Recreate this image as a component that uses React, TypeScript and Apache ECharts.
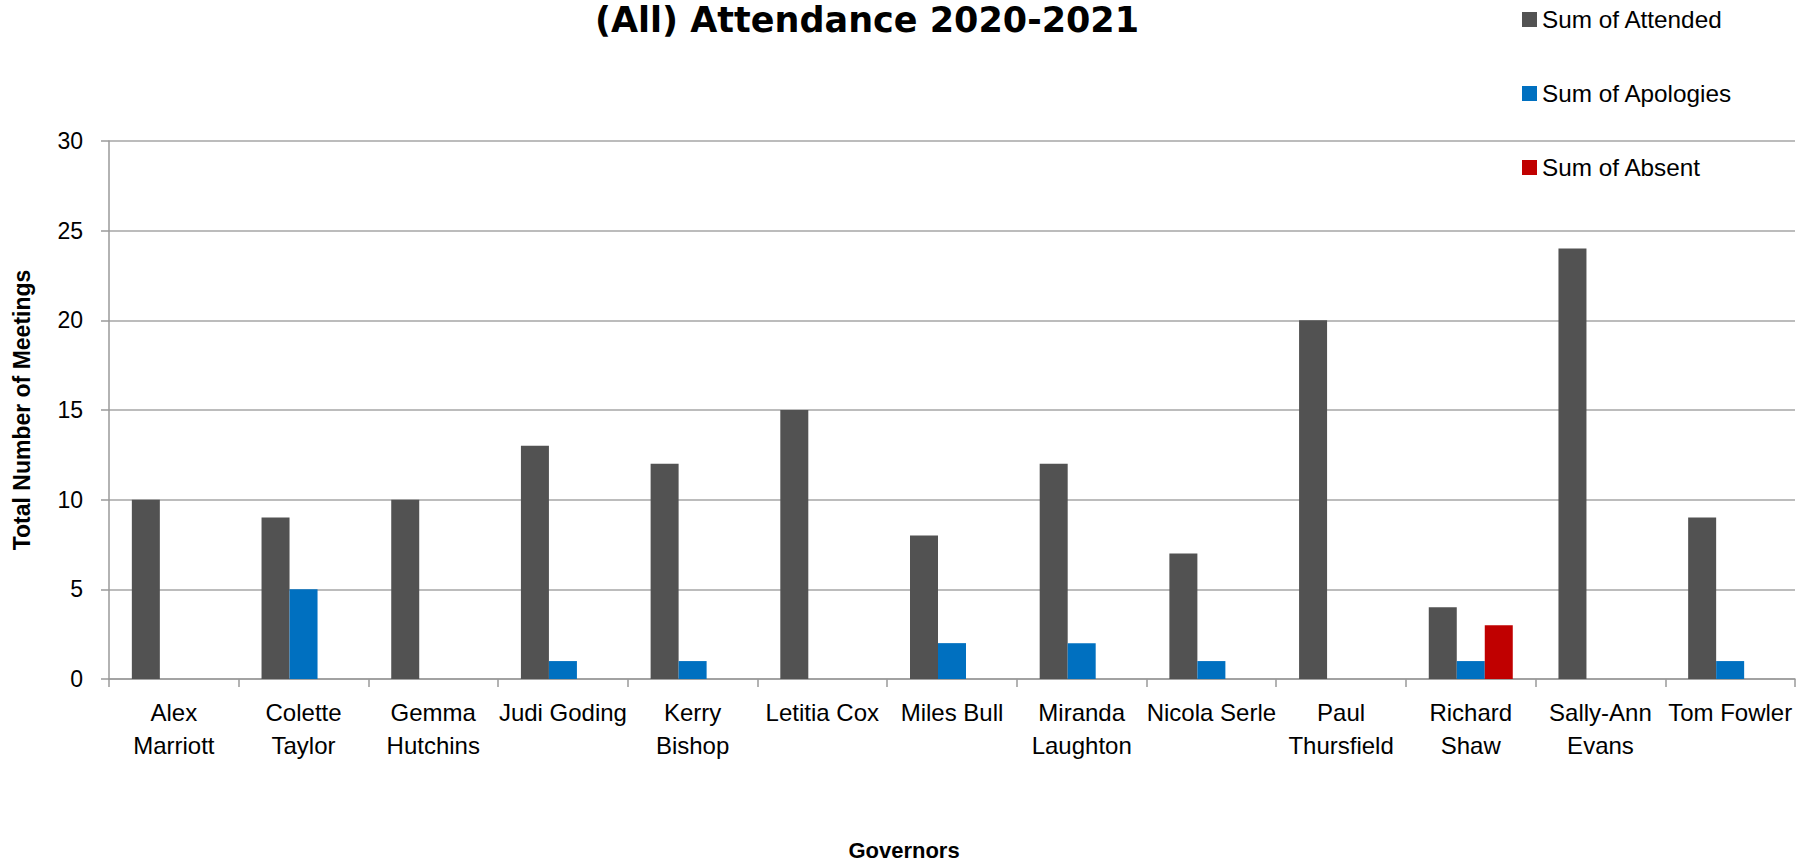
import React, { useEffect, useRef } from "react";
import * as echarts from "echarts";

const categories = [
  "Alex\nMarriott",
  "Colette\nTaylor",
  "Gemma\nHutchins",
  "Judi Goding",
  "Kerry\nBishop",
  "Letitia Cox",
  "Miles Bull",
  "Miranda\nLaughton",
  "Nicola Serle",
  "Paul\nThursfield",
  "Richard\nShaw",
  "Sally-Ann\nEvans",
  "Tom Fowler",
];

const attended = [10, 9, 10, 13, 12, 15, 8, 12, 7, 20, 4, 24, 9];
const apologies = [null, 5, null, 1, 1, null, 2, 2, 1, null, 1, null, 1];
const absent = [null, null, null, null, null, null, null, null, null, null, 3, null, null];

const seriesNames = ["Sum of Attended", "Sum of Apologies", "Sum of Absent"];
const seriesColors = ["#525252", "#0070C0", "#C00000"];

const yMin = 0;
const yMax = 30;
const yInterval = 5;

const FONT = "'Liberation Sans', Arial, sans-serif";

export default function App() {
  const ref = useRef<HTMLDivElement>(null);

  useEffect(() => {
    if (!ref.current) return;
    const chart = echarts.init(ref.current, null, { renderer: "svg" });
    const values = [attended, apologies, absent];
    chart.setOption({
      animation: false,
      backgroundColor: "#ffffff",
      title: {
        text: "(All) Attendance 2020-2021",
        left: 595,
        top: 2,
        padding: 0,
        textStyle: {
          fontFamily: "'DejaVu Sans', sans-serif",
          fontWeight: "bold",
          fontSize: 35,
          color: "#000000",
        },
      },
      legend: {
        orient: "vertical",
        left: 1522,
        top: 7,
        padding: 0,
        itemWidth: 15,
        itemHeight: 15,
        itemGap: 49,
        icon: "rect",
        textStyle: {
          fontFamily: FONT,
          fontSize: 24.3,
          lineHeight: 25,
          color: "#000000",
        },
        data: seriesNames,
      },
      grid: {
        left: 109,
        right: 18,
        top: 141,
        bottom: 185,
        containLabel: false,
      },
      xAxis: {
        type: "category",
        data: categories,
        name: "Governors",
        nameLocation: "middle",
        nameGap: 160,
        nameTextStyle: {
          fontFamily: FONT,
          fontWeight: "bold",
          fontSize: 22,
          color: "#000000",
          padding: [0, 96, 0, 0],
        },
        axisLine: { show: true, lineStyle: { color: "#9a9a9a", width: 1.5 } },
        axisTick: {
          show: true,
          length: 8,
          alignWithLabel: false,
          lineStyle: { color: "#9a9a9a", width: 1.5 },
        },
        axisLabel: {
          interval: 0,
          margin: 17,
          fontFamily: FONT,
          fontSize: 24,
          lineHeight: 33,
          color: "#000000",
        },
        splitLine: { show: false },
      },
      yAxis: {
        type: "value",
        min: yMin,
        max: yMax,
        interval: yInterval,
        name: "Total Number of Meetings",
        nameLocation: "middle",
        nameGap: 76,
        nameTextStyle: {
          fontFamily: FONT,
          fontWeight: "bold",
          fontSize: 23,
          color: "#000000",
        },
        axisLine: { show: true, lineStyle: { color: "#9a9a9a", width: 1.5 } },
        axisTick: { show: true, length: 8, lineStyle: { color: "#9a9a9a", width: 1.5 } },
        axisLabel: {
          margin: 26,
          fontFamily: FONT,
          fontSize: 23,
          color: "#000000",
        },
        splitLine: { show: true, lineStyle: { color: "#a6a6a6", width: 1.5 } },
      },
      series: seriesNames.map((name, i) => ({
        name,
        type: "bar",
        data: values[i],
        barWidth: 28,
        barGap: "0%",
        itemStyle: { color: seriesColors[i] },
      })),
    });
    return () => chart.dispose();
  }, []);

  return (
    <div
      ref={ref}
      style={{ position: "fixed", left: 0, top: 0, width: 1813, height: 866 }}
    />
  );
}
